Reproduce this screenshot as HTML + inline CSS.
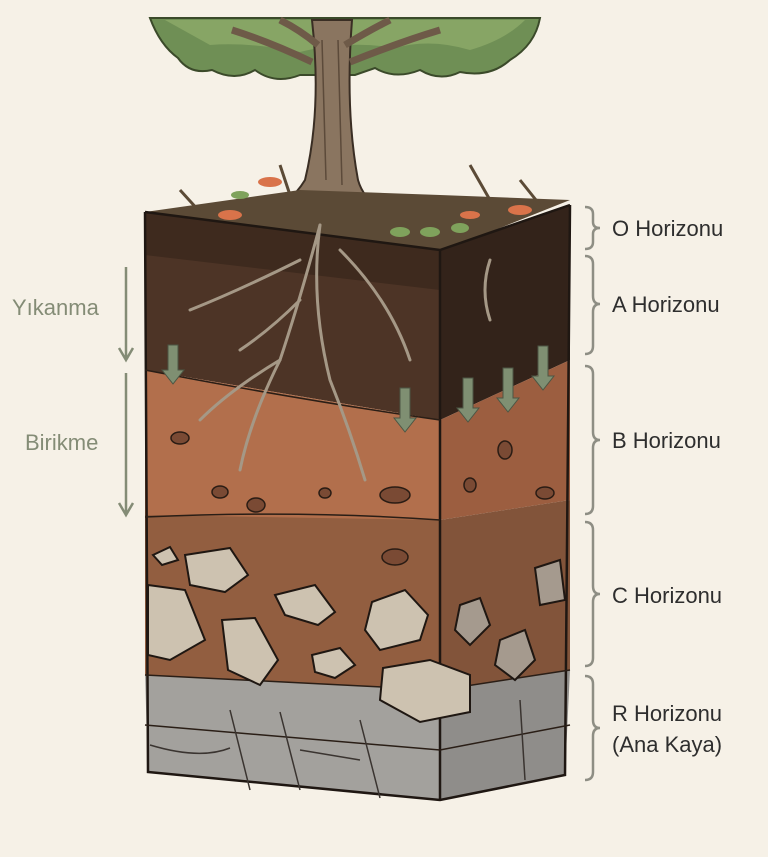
<!DOCTYPE html>
<html><head><meta charset="utf-8"><style>
html,body{margin:0;padding:0;background:#f6f1e7;}
svg{display:block}
</style></head><body>
<svg width="768" height="857" viewBox="0 0 768 857" xmlns="http://www.w3.org/2000/svg">
<rect width="768" height="857" fill="#f6f1e7"/>
<!-- canopy -->
<path d="M150 18 L540 18 Q535 45 510 60 Q490 78 460 72 Q440 82 420 70 Q395 80 375 68 L355 75 L300 75 Q275 85 255 70 Q235 82 212 70 Q190 75 178 58 Q160 45 150 18Z" fill="#6f8f55" stroke="#3b4a2a" stroke-width="2"/>
<path d="M165 20 L525 20 Q505 40 470 50 Q430 38 395 48 Q350 40 300 52 Q250 42 210 45 Z" fill="#87a565"/>
<!-- trunk -->
<path d="M312 20 Q322 110 305 180 Q290 205 255 222 L400 222 Q365 205 358 180 Q345 110 352 20Z" fill="#8a7560" stroke="#3a2e24" stroke-width="2"/>
<path d="M322 40 L326 180 M338 40 L342 185" stroke="#5c4a3a" stroke-width="1.5"/>
<path d="M312 62 Q270 42 232 30 M350 62 Q400 42 440 30 M318 45 Q300 30 280 20 M345 45 Q370 30 390 20" stroke="#6e5a48" stroke-width="7" fill="none"/>
<!-- top surface -->
<polygon points="145,212 300,190 440,195 570,200 440,252 145,225" fill="#5b4a36"/>
<path d="M180 190 L200 212 M470 165 L490 200 M520 180 L540 205 M280 165 L290 195" stroke="#5b4a36" stroke-width="3"/>
<!-- front face layers -->
<polygon points="145,212 440,250 440,300 145,265" fill="#3e2a1e"/>
<polygon points="145,255 440,290 440,420 145,370" fill="#4d3426"/>
<polygon points="145,370 440,420 440,520 145,520" fill="#b26f4c"/>
<polygon points="145,515 440,520 440,690 145,675" fill="#925e40"/>
<polygon points="145,675 440,690 440,800 148,772" fill="#a3a19d"/>
<!-- right face -->
<polygon points="440,250 570,205 570,360 440,420" fill="#33231a"/>
<polygon points="440,420 570,360 570,500 440,520" fill="#9c5e40"/>
<polygon points="440,520 570,500 570,670 440,690" fill="#82543a"/>
<polygon points="440,690 570,670 565,775 440,800" fill="#8f8d8a"/>
<path d="M145 212 L440 250 L570 205 M440 250 L440 800 M145 212 L148 772 L440 800 L565 775 L570 205" fill="none" stroke="#1f1712" stroke-width="2.5"/>
<path d="M145 725 L440 750 L570 725 M145 370 Q300 400 440 420 M145 517 Q300 510 440 520 M145 675 L440 690 L570 670" fill="none" stroke="#2a1e16" stroke-width="1.5"/>
<!-- roots -->
<g stroke="#a59886" stroke-width="3" fill="none" stroke-linecap="round">
<path d="M320 225 Q300 300 280 360 Q250 420 240 470"/>
<path d="M320 225 Q310 300 330 380 Q350 430 365 480"/>
<path d="M300 260 Q240 290 190 310"/>
<path d="M340 250 Q390 300 410 360"/>
<path d="M280 360 Q230 390 200 420"/>
<path d="M300 300 Q270 330 240 350"/>
<path d="M490 260 Q480 290 490 320"/>
</g>
<!-- leaves -->
<g fill="#d9734a"><ellipse cx="230" cy="215" rx="12" ry="5"/><ellipse cx="270" cy="182" rx="12" ry="5"/><ellipse cx="520" cy="210" rx="12" ry="5"/><ellipse cx="470" cy="215" rx="10" ry="4"/></g>
<g fill="#7fa25c"><ellipse cx="400" cy="232" rx="10" ry="5"/><ellipse cx="430" cy="232" rx="10" ry="5"/><ellipse cx="460" cy="228" rx="9" ry="5"/><ellipse cx="240" cy="195" rx="9" ry="4"/></g>
<!-- pebbles B -->
<g fill="#7a4a34" stroke="#2a1c14" stroke-width="1.5">
<ellipse cx="180" cy="438" rx="9" ry="6"/><ellipse cx="220" cy="492" rx="8" ry="6"/><ellipse cx="256" cy="505" rx="9" ry="7"/><ellipse cx="395" cy="495" rx="15" ry="8"/><ellipse cx="325" cy="493" rx="6" ry="5"/><ellipse cx="505" cy="450" rx="7" ry="9"/><ellipse cx="545" cy="493" rx="9" ry="6"/><ellipse cx="470" cy="485" rx="6" ry="7"/><ellipse cx="395" cy="557" rx="13" ry="8"/>
</g>
<!-- rocks C -->
<g fill="#cdc2b0" stroke="#1f1712" stroke-width="2">
<path d="M185 555 L230 548 L248 575 L225 592 L190 585Z"/>
<path d="M148 585 L185 590 L205 640 L170 660 L148 655Z"/>
<path d="M222 620 L255 618 L278 660 L260 685 L228 670Z"/>
<path d="M275 595 L315 585 L335 612 L318 625 L285 615Z"/>
<path d="M372 602 L405 590 L428 615 L420 640 L380 650 L365 630Z"/>
<path d="M383 668 L430 660 L470 675 L470 712 L420 722 L380 700Z"/>
<path d="M312 655 L340 648 L355 665 L335 678 L315 672Z"/>
<path d="M153 555 L170 547 L178 560 L162 565Z"/>
<path d="M460 605 L480 598 L490 625 L470 645 L455 630Z" fill="#a59a8e"/>
<path d="M535 568 L560 560 L565 600 L540 605Z" fill="#a59a8e"/>
<path d="M500 640 L525 630 L535 660 L515 680 L495 665Z" fill="#a59a8e"/>
</g>
<!-- bedrock cracks -->
<g stroke="#3a3430" stroke-width="1.5" fill="none">
<path d="M230 710 L250 790 M280 712 L300 790 M360 720 L380 798 M520 700 L525 780 M150 745 Q200 760 230 748 M300 750 L360 760"/>
</g>
<!-- arrows -->
<g fill="#7f8f72" stroke="#4c5644" stroke-width="1">
<path d="M168 345 h10 v25 h6 l-11 14 l-11 -14 h6z"/>
<path d="M400 388 h10 v30 h6 l-11 14 l-11 -14 h6z"/>
<path d="M463 378 h10 v30 h6 l-11 14 l-11 -14 h6z"/>
<path d="M503 368 h10 v30 h6 l-11 14 l-11 -14 h6z"/>
<path d="M538 346 h10 v30 h6 l-11 14 l-11 -14 h6z"/>
</g>
<!-- left labels -->
<g stroke="#848c76" stroke-width="2.5" fill="none">
<path d="M126 267 V358 M119 348 L126 360 L133 348"/>
<path d="M126 373 V513 M119 503 L126 515 L133 503"/>
</g>
<g font-family="Liberation Sans, sans-serif" font-size="22" fill="#848c76">
<text x="12" y="315">Yıkanma</text>
<text x="25" y="450">Birikme</text>
</g>
<!-- braces -->
<g stroke="#8e8e84" stroke-width="2.5" fill="none">
<path d="M585 207 Q593 207 593 214 V222 Q593 228 600 228 Q593 228 593 234 V242 Q593 249 585 249"/>
<path d="M585 256 Q593 256 593 264 V296 Q593 304 600 304 Q593 304 593 312 V346 Q593 354 585 354"/>
<path d="M585 366 Q593 366 593 374 V432 Q593 440 600 440 Q593 440 593 448 V506 Q593 514 585 514"/>
<path d="M585 522 Q593 522 593 530 V586 Q593 594 600 594 Q593 594 593 602 V658 Q593 666 585 666"/>
<path d="M585 676 Q593 676 593 684 V720 Q593 728 600 728 Q593 728 593 736 V772 Q593 780 585 780"/>
</g>
<g font-family="Liberation Sans, sans-serif" font-size="22" fill="#2e2e2e">
<text x="612" y="236">O Horizonu</text>
<text x="612" y="312">A Horizonu</text>
<text x="612" y="448">B Horizonu</text>
<text x="612" y="603">C Horizonu</text>
<text x="612" y="721">R Horizonu</text>
<text x="612" y="752">(Ana Kaya)</text>
</g>
</svg>
</body></html>
